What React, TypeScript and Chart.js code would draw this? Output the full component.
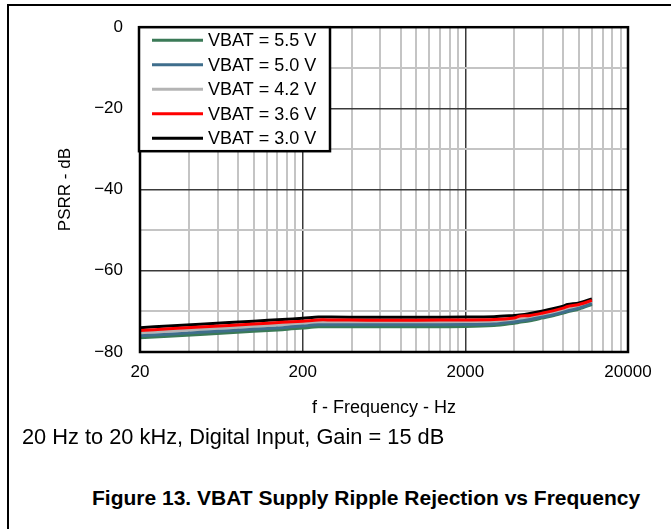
import React, { useEffect, useRef } from "react";
import { Chart, registerables } from "chart.js";

Chart.register(...registerables);

// ---- data ----
const freqHz = [20, 30, 50, 100, 150, 200, 250, 300, 500, 1000, 2000, 3000, 4000, 4300, 5000, 6000, 7000, 8000, 8500, 10000, 12000];

const vbat55 = [-76.5, -76.1, -75.6, -74.9, -74.5, -74.1, -73.8, -73.8, -73.8, -73.8, -73.75, -73.5, -72.9, -72.7, -72.3, -71.6, -71.0, -70.4, -70.1, -69.4, -68.3];
const vbat50 = [-76.0, -75.6, -75.1, -74.4, -74.0, -73.6, -73.3, -73.3, -73.3, -73.3, -73.25, -73.1, -72.6, -72.4, -72.0, -71.35, -70.8, -70.2, -69.9, -69.2, -68.1];
const vbat42 = [-75.3, -74.9, -74.4, -73.7, -73.3, -73.0, -72.7, -72.7, -72.75, -72.75, -72.7, -72.55, -72.2, -72.0, -71.6, -71.0, -70.4, -69.8, -69.5, -68.9, -67.8];
const vbat36 = [-74.7, -74.3, -73.8, -73.1, -72.7, -72.4, -72.1, -72.1, -72.15, -72.15, -72.1, -72.0, -71.6, -71.2, -71.0, -70.4, -69.8, -69.2, -68.8, -68.3, -67.3];
const vbat30 = [-74.0, -73.6, -73.1, -72.4, -72.0, -71.7, -71.4, -71.4, -71.45, -71.45, -71.4, -71.3, -71.0, -70.9, -70.5, -69.9, -69.3, -68.7, -68.3, -67.9, -66.9];

const seriesLabels = ["VBAT = 5.5 V", "VBAT = 5.0 V", "VBAT = 4.2 V", "VBAT = 3.6 V", "VBAT = 3.0 V"];
const seriesColors = ["#3b7a57", "#3f6e8c", "#b4b4b4", "#ff0000", "#000000"];
const seriesDrawOrder = [2, 1, 3, 0, 4];

const xGridValues = [20, 40, 60, 80, 100, 120, 140, 160, 180, 200, 400, 600, 800, 1000, 1200, 1400, 1600, 1800, 2000, 4000, 6000, 8000, 10000, 12000, 14000, 16000, 18000, 20000];
const xLabelValues = [20, 200, 2000, 20000];
const xMajorGrid = [200, 2000];
const yLabelValues = [0, -20, -40, -60, -80];

const xTitle = "f - Frequency - Hz";
const yTitle = "PSRR - dB";
const noteText = "20 Hz to 20 kHz, Digital Input, Gain = 15 dB";
const captionText = "Figure 13. VBAT Supply Ripple Rejection vs Frequency";

const FONT = "'Liberation Sans', Arial, Helvetica, sans-serif";

const frameAndLegend = {
  id: "frameAndLegend",
  afterDatasetsDraw(chart: any) {
    const { ctx, chartArea } = chart;
    ctx.save();
    // plot border
    ctx.strokeStyle = "#000";
    ctx.lineWidth = 2.5;
    ctx.strokeRect(chartArea.left, chartArea.top, chartArea.right - chartArea.left, chartArea.bottom - chartArea.top);
    // legend box
    const bx = chartArea.left - 1;
    const by = chartArea.top;
    const bw = 191;
    const bh = 124;
    ctx.fillStyle = "#fff";
    ctx.fillRect(bx, by, bw, bh);
    ctx.lineWidth = 2.5;
    ctx.strokeRect(bx, by, bw, bh);
    const rowH = 24.5;
    ctx.font = "18px " + FONT;
    ctx.textBaseline = "middle";
    ctx.textAlign = "left";
    chart.data.datasets.forEach((ds: any, i: number) => {
      const cy = by + 13 + i * rowH;
      ctx.strokeStyle = ds.borderColor;
      ctx.lineWidth = 3;
      ctx.beginPath();
      ctx.moveTo(bx + 13, cy);
      ctx.lineTo(bx + 64, cy);
      ctx.stroke();
      ctx.fillStyle = "#000";
      ctx.fillText(ds.label, bx + 69, cy + 1);
    });
    ctx.restore();
  },
};

export default function App() {
  const canvasRef = useRef<HTMLCanvasElement | null>(null);

  useEffect(() => {
    if (!canvasRef.current) return;
    const seriesValues = [vbat55, vbat50, vbat42, vbat36, vbat30];
    const chart = new Chart(canvasRef.current, {
      type: "line",
      data: {
        datasets: seriesValues.map((vals, i) => ({
          label: seriesLabels[i],
          data: freqHz.map((f, k) => ({ x: f, y: vals[k] })),
          borderColor: seriesColors[i],
          backgroundColor: seriesColors[i],
          borderWidth: 3,
          pointRadius: 0,
          tension: 0.3,
          fill: false,
          order: seriesDrawOrder[i],
        })),
      },
      options: {
        animation: false,
        responsive: false,
        layout: { padding: { left: 0, top: 21, right: 43, bottom: 0 } },
        plugins: {
          legend: { display: false },
          tooltip: { enabled: false },
        },
        scales: {
          x: {
            type: "logarithmic",
            min: 20,
            max: 20000,
            afterBuildTicks: (scale: any) => {
              scale.ticks = xGridValues.map((v) => ({ value: v }));
            },
            afterFit: (scale: any) => {
              scale.height = 73;
            },
            ticks: {
              autoSkip: false,
              maxRotation: 0,
              padding: 10,
              color: "#000",
              font: { family: FONT, size: 17 },
              callback: (value: any) => (xLabelValues.includes(Number(value)) ? String(value) : ""),
            },
            grid: {
              drawTicks: false,
              color: (c: any) => (c.tick && xMajorGrid.includes(c.tick.value) ? "#3a3a3a" : "#c4c4c4"),
              lineWidth: (c: any) => (c.tick && xMajorGrid.includes(c.tick.value) ? 1.5 : 2),
            },
            border: { display: false },
            title: {
              display: true,
              text: xTitle,
              color: "#000",
              font: { family: FONT, size: 18 },
              padding: { top: 0, bottom: 6 },
            },
          },
          y: {
            type: "linear",
            min: -80,
            max: 0,
            afterFit: (scale: any) => {
              scale.width = 140;
            },
            ticks: {
              stepSize: 10,
              autoSkip: false,
              padding: 17,
              color: "#000",
              font: { family: FONT, size: 17 },
              callback: (value: any) => {
                const v = Number(value);
                if (!yLabelValues.includes(v)) return "";
                return v < 0 ? "\u2212" + Math.abs(v) : String(v);
              },
            },
            grid: {
              drawTicks: false,
              color: (c: any) => (c.tick && c.tick.value % 20 === 0 ? "#3a3a3a" : "#c4c4c4"),
              lineWidth: (c: any) => (c.tick && c.tick.value % 20 === 0 ? 1.5 : 2),
            },
            border: { display: false },
            title: {
              display: true,
              text: yTitle,
              color: "#000",
              font: { family: FONT, size: 17 },
              padding: { top: 55, bottom: 0 },
            },
          },
        },
      },
      plugins: [frameAndLegend],
    });
    return () => chart.destroy();
  }, []);

  return (
    <div style={{ position: "fixed", left: 0, top: 0, width: 671, height: 529, background: "#fff", overflow: "hidden", fontFamily: FONT }}>
      <div style={{ position: "absolute", left: 7, top: 4, width: 664, height: 525, borderTop: "2px solid #000", borderLeft: "2px solid #000" }} />
      <canvas ref={canvasRef} width={671} height={425} style={{ position: "absolute", left: 0, top: 0, width: 671, height: 425 }} />
      <div style={{ position: "absolute", left: 22, top: 424, fontSize: 21.8, color: "#000", whiteSpace: "nowrap" }}>{noteText}</div>
      <div style={{ position: "absolute", left: 92, top: 486, fontSize: 21, fontWeight: "bold", color: "#000", whiteSpace: "nowrap" }}>{captionText}</div>
    </div>
  );
}
